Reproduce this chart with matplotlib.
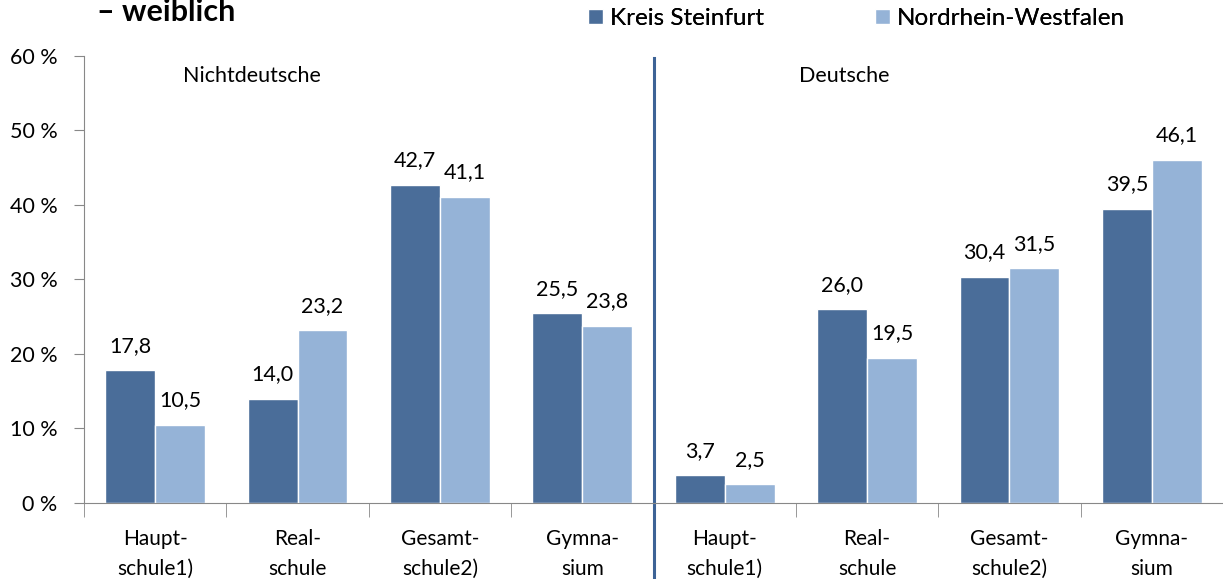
import matplotlib.pyplot as plt
import numpy as np

# Schulabgänger weiblich: Anteile nach Schulform
kategorien = ["Haupt-\nschule1)", "Real-\nschule", "Gesamt-\nschule2)", "Gymna-\nsium",
              "Haupt-\nschule1)", "Real-\nschule", "Gesamt-\nschule2)", "Gymna-\nsium"]
kreis_steinfurt = [17.8, 14.0, 42.7, 25.5, 3.7, 26.0, 30.4, 39.5]
nrw = [10.5, 23.2, 41.1, 23.8, 2.5, 19.5, 31.5, 46.1]
gruppen = ["Nichtdeutsche", "Deutsche"]
y_ticks = [0, 10, 20, 30, 40, 50, 60]

farbe_kreis = "#4a6d99"
farbe_nrw = "#95b3d7"

plt.rcParams['font.family'] = ['Lato', 'DejaVu Sans']

fig = plt.figure(figsize=(12.23, 5.79), dpi=100)
ax = fig.add_axes([0.0687, 0.1313, 0.9313, 0.772])

x = np.arange(len(kategorien))
w = 0.35
b1 = ax.bar(x - w / 2, kreis_steinfurt, w, color=farbe_kreis, edgecolor="white", linewidth=1,
            label="Kreis Steinfurt")
b2 = ax.bar(x + w / 2, nrw, w, color=farbe_nrw, edgecolor="white", linewidth=1,
            label="Nordrhein-Westfalen")

for bars, vals in [(b1, kreis_steinfurt), (b2, nrw)]:
    for r, v in zip(bars, vals):
        ax.annotate(f"{v:.1f}".replace(".", ","), (r.get_x() + r.get_width() / 2, v),
                    xytext=(0, 17.5), textcoords="offset points",
                    ha="center", va="center", fontsize=15.5)

ax.set_xlim(-0.5, len(kategorien) - 0.5)
ax.set_ylim(0, 60)
ax.set_yticks(y_ticks)
ax.set_yticklabels([f"{t} %" for t in y_ticks], fontsize=15.5)
ax.set_xticks(x)
ax.set_xticklabels(kategorien, fontsize=15, linespacing=1.6)
ax.tick_params(axis="x", length=0, pad=19)
ax.set_xticks(np.arange(-0.5, len(kategorien), 1), minor=True)
ax.tick_params(axis="x", which="minor", length=10, color="#888888")
ax.tick_params(axis="y", length=7, color="#888888", pad=12)
for s in ["top", "right"]:
    ax.spines[s].set_visible(False)
for s in ["left", "bottom"]:
    ax.spines[s].set_color("#888888")

# Trennlinie zwischen den Gruppen
ax.axvline(3.5, ymin=-0.17, ymax=0.995, color="#3d6396", linewidth=2.2, clip_on=False)

ax.text(0.68, 57.3, gruppen[0], ha="center", va="center", fontsize=15.5)
ax.text(4.84, 57.3, gruppen[1], ha="center", va="center", fontsize=15.5)

fig.text(0.0795, 1 - 21 / 579, "– weiblich", fontsize=22, fontweight="bold",
         va="baseline", ha="left")

# Legende: zwei Einträge getrennt platziert
for handle, xpos in [(b1, 566 / 1223), (b2, 853 / 1223)]:
    leg = fig.legend(handles=[handle], loc="center left", bbox_to_anchor=(xpos, 0.968),
                     frameon=False, fontsize=17.5, handlelength=0.62, handleheight=0.62,
                     handletextpad=0.3)
    fig.add_artist(leg)

fig.savefig("out.png", dpi=100)
